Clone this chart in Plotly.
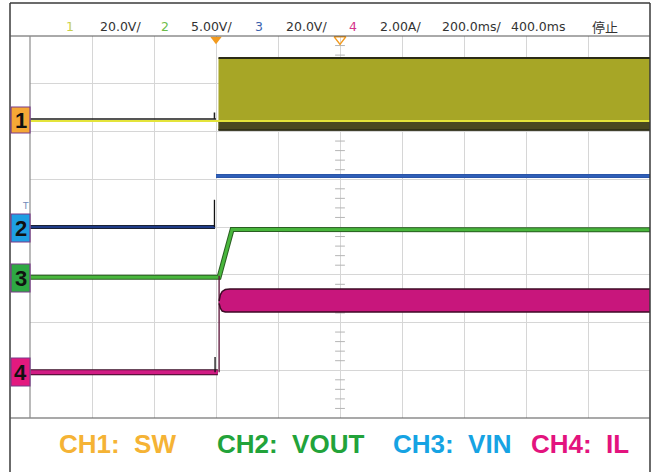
import plotly.graph_objects as go

W, H = 656, 472
L, R, T, B = 30, 650, 36, 418  # plot area in pixels


def px(x):
    return (x - L) / (R - L)


def py(y):
    return (B - y) / (B - T)


# ---- axes (time in ms, vertical in divisions) ----
x_range = [-600, 1400]
y_range = [-4, 4]

# ---- CH1: SW ----
sw_base_t = [-600, 1400]
sw_base_v = [2.22, 2.22]
sw_pre_t = [-600, -5, -5, -5, 0]
sw_pre_v = [2.26, 2.26, 2.40, 2.26, 2.26]
sw_on_t = [8, 1400]
sw_on_top = [3.54, 3.54]
sw_on_low = [2.03, 2.03]
sw_fuzz = [2.20, 2.20]

# ---- CH3: VIN ----
vin_pre_t = [-600, -3]
vin_pre_v = [0.0, 0.0]
vin_spike_t = [-5, -5]
vin_spike_v = [0.0, 0.57]
vin_post_t = [0, 1400]
vin_post_v = [1.07, 1.07]

# ---- CH2: VOUT ----
vout_t = [-600, 10, 52, 1400]
vout_v = [-1.05, -1.05, -0.05, -0.06]

# ---- CH4: IL ----
il_pre_t = [-600, 6]
il_pre_v = [-3.04, -3.04]
il_spike_t = [-3, -3]
il_spike_v = [-3.04, -2.72]
il_edge_t = [10, 10]
il_edge_v = [-3.04, -1.02]
il_on_t = [10, 14, 20, 30, 45, 1400]
il_on_top = [-1.55, -1.42, -1.35, -1.31, -1.30, -1.30]
il_on_low = [-1.60, -1.70, -1.76, -1.78, -1.78, -1.78]

# ---- header / labels ----
header_items = [
    ("1", 70, "#c9cf4a"), ("20.0V/", 121, "#333333"),
    ("2", 165, "#6cbd4a"), ("5.00V/", 211, "#333333"),
    ("3", 259, "#3a62ad"), ("20.0V/", 306, "#333333"),
    ("4", 353, "#d4348c"), ("2.00A/", 400, "#333333"),
    ("200.0ms/", 471, "#333333"), ("400.0ms", 538, "#333333"),
]
stop_label = "停止"
legend_items = [
    ("CH1:\u00a0\u00a0SW", 117, "#F5B335"),
    ("CH2:\u00a0\u00a0VOUT", 290, "#22A33A"),
    ("CH3:\u00a0\u00a0VIN", 452, "#16A3E3"),
    ("CH4:\u00a0\u00a0IL", 580, "#E3137E"),
]
channel_boxes = [
    ("1", 107, 133, "#F5A836"),
    ("2", 214, 242, "#1E9FE3"),
    ("3", 264, 292, "#2EA843"),
    ("4", 358, 386, "#E3197F"),
]

fig = go.Figure()


def line(t, v, color, width):
    fig.add_trace(go.Scatter(x=t, y=v, mode="lines", hoverinfo="skip",
                             line=dict(color=color, width=width)))


# center graticule ticks
tick_y = [i / 5 for i in range(-20, 21) if i % 5 != 0]
fig.add_trace(go.Scatter(x=[400] * len(tick_y), y=tick_y, mode="markers",
                         hoverinfo="skip",
                         marker=dict(symbol="line-ew", size=7,
                                     line=dict(color="#b5b5b5", width=1))))

# CH1 switching envelope
line(sw_on_t, sw_on_low, "#2a2a14", 1)
fig.add_trace(go.Scatter(x=sw_on_t, y=sw_on_top, mode="lines", fill="tonexty",
                         fillcolor="#A7A626", hoverinfo="skip",
                         line=dict(color="#2b2b16", width=2)))
line(sw_on_t, sw_on_low, "#2a2a14", 1.5)
fig.add_trace(go.Scatter(x=sw_on_t, y=sw_fuzz, mode="lines", fill="tonexty",
                         fillcolor="#4a4920", hoverinfo="skip",
                         line=dict(color="#4a4920", width=1)))
line(sw_pre_t, sw_pre_v, "#1e1e1e", 1.5)
line(sw_base_t, sw_base_v, "#E4E43A", 2.2)

# CH3 VIN
line(vin_pre_t, vin_pre_v, "#1a1a1a", 4)
line(vin_pre_t, vin_pre_v, "#1F3C88", 2.5)
line(vin_spike_t, vin_spike_v, "#111111", 1.3)
line(vin_post_t, vin_post_v, "#2B55A8", 4)
line(vin_post_t, vin_post_v, "#2F5FB8", 2)

# CH2 VOUT
line(vout_t, vout_v, "#2a5e22", 5)
line(vout_t, vout_v, "#48B63C", 3)

# CH4 IL
line(il_pre_t, il_pre_v, "#3a0c26", 6)
line(il_pre_t, il_pre_v, "#D11C84", 4)
line(il_spike_t, il_spike_v, "#111111", 1.3)
line(il_edge_t, il_edge_v, "#5a1036", 1.3)
line(il_on_t, il_on_low, "#3c0a24", 1.5)
fig.add_trace(go.Scatter(x=il_on_t, y=il_on_top, mode="lines", fill="tonexty",
                         fillcolor="#C8167C", hoverinfo="skip",
                         line=dict(color="#3c0a24", width=1.5)))

# trigger markers at the top edge
fig.add_trace(go.Scatter(x=[0], y=[3.93], mode="markers", hoverinfo="skip",
                         cliponaxis=False,
                         marker=dict(symbol="triangle-down", size=10,
                                     color="#F29A1E")))
fig.add_trace(go.Scatter(x=[400], y=[3.93], mode="markers", hoverinfo="skip",
                         cliponaxis=False,
                         marker=dict(symbol="triangle-down-open", size=10,
                                     color="#F29A1E",
                                     line=dict(width=1.5, color="#F29A1E"))))

shapes = []
frame = "#3a3a3a"
# outer frame
shapes.append(dict(type="line", xref="paper", yref="paper", x0=px(10), x1=px(10),
                   y0=py(3), y1=py(472), line=dict(color=frame, width=1.5)))
shapes.append(dict(type="line", xref="paper", yref="paper", x0=px(10), x1=px(650),
                   y0=py(3), y1=py(3), line=dict(color=frame, width=1.5)))
shapes.append(dict(type="line", xref="paper", yref="paper", x0=px(650), x1=px(650),
                   y0=py(3), y1=py(472), line=dict(color=frame, width=1.5)))
shapes.append(dict(type="line", xref="paper", yref="paper", x0=px(10), x1=px(650),
                   y0=py(36), y1=py(36), line=dict(color="#555555", width=1)))
shapes.append(dict(type="line", xref="paper", yref="paper", x0=px(10), x1=px(650),
                   y0=py(418), y1=py(418), line=dict(color="#555555", width=1.2)))
shapes.append(dict(type="line", xref="paper", yref="paper", x0=0, x1=0,
                   y0=0, y1=1, line=dict(color="#8c8c8c", width=1.2)))

annotations = []
for lab, y0, y1, col in channel_boxes:
    shapes.append(dict(type="rect", xref="paper", yref="paper",
                       x0=px(11), x1=px(30), y0=py(y1), y1=py(y0),
                       fillcolor=col, line=dict(color="#7b3a8a", width=1.2)))
    annotations.append(dict(text=f"<b>{lab}</b>", xref="paper", yref="paper",
                            x=px(20.5), y=py((y0 + y1) / 2), showarrow=False,
                            xanchor="center", yanchor="middle",
                            font=dict(family="Liberation Sans, Arial", size=22,
                                      color="#111111")))

for txt, xc, col in header_items:
    annotations.append(dict(text=txt, xref="paper", yref="paper", x=px(xc),
                            y=py(27), showarrow=False, xanchor="center",
                            yanchor="middle",
                            font=dict(family="DejaVu Sans, Liberation Sans",
                                      size=12.5, color=col)))
annotations.append(dict(text=stop_label, xref="paper", yref="paper", x=px(605),
                        y=py(27), showarrow=False, xanchor="center",
                        yanchor="middle",
                        font=dict(family="Noto Sans CJK SC", size=13,
                                  color="#333333")))
annotations.append(dict(text="T", xref="paper", yref="paper", x=px(25),
                        y=py(206), showarrow=False, xanchor="center",
                        yanchor="middle",
                        font=dict(family="DejaVu Sans", size=9,
                                  color="#7088b8")))

for txt, xc, col in legend_items:
    annotations.append(dict(text=f"<b>{txt}</b>", xref="paper", yref="paper",
                            x=px(xc), y=py(444), showarrow=False,
                            xanchor="center", yanchor="middle",
                            font=dict(family="Liberation Sans, Arial", size=26,
                                      color=col)))

fig.update_layout(
    width=W, height=H,
    margin=dict(l=L, r=W - R, t=T, b=H - B),
    paper_bgcolor="white", plot_bgcolor="white",
    showlegend=False,
    shapes=shapes, annotations=annotations,
    xaxis=dict(range=x_range, dtick=200, tick0=-600, showgrid=True,
               gridcolor="#d6d6d6", gridwidth=1, zeroline=False,
               showticklabels=False, ticks="", showline=False, fixedrange=True),
    yaxis=dict(range=y_range, dtick=1, tick0=-4, showgrid=True,
               gridcolor="#d6d6d6", gridwidth=1, zeroline=False,
               showticklabels=False, ticks="", showline=False, fixedrange=True),
)

fig.write_html("out.html", config={"displayModeBar": False},
               post_script="document.body.style.margin='0';")
